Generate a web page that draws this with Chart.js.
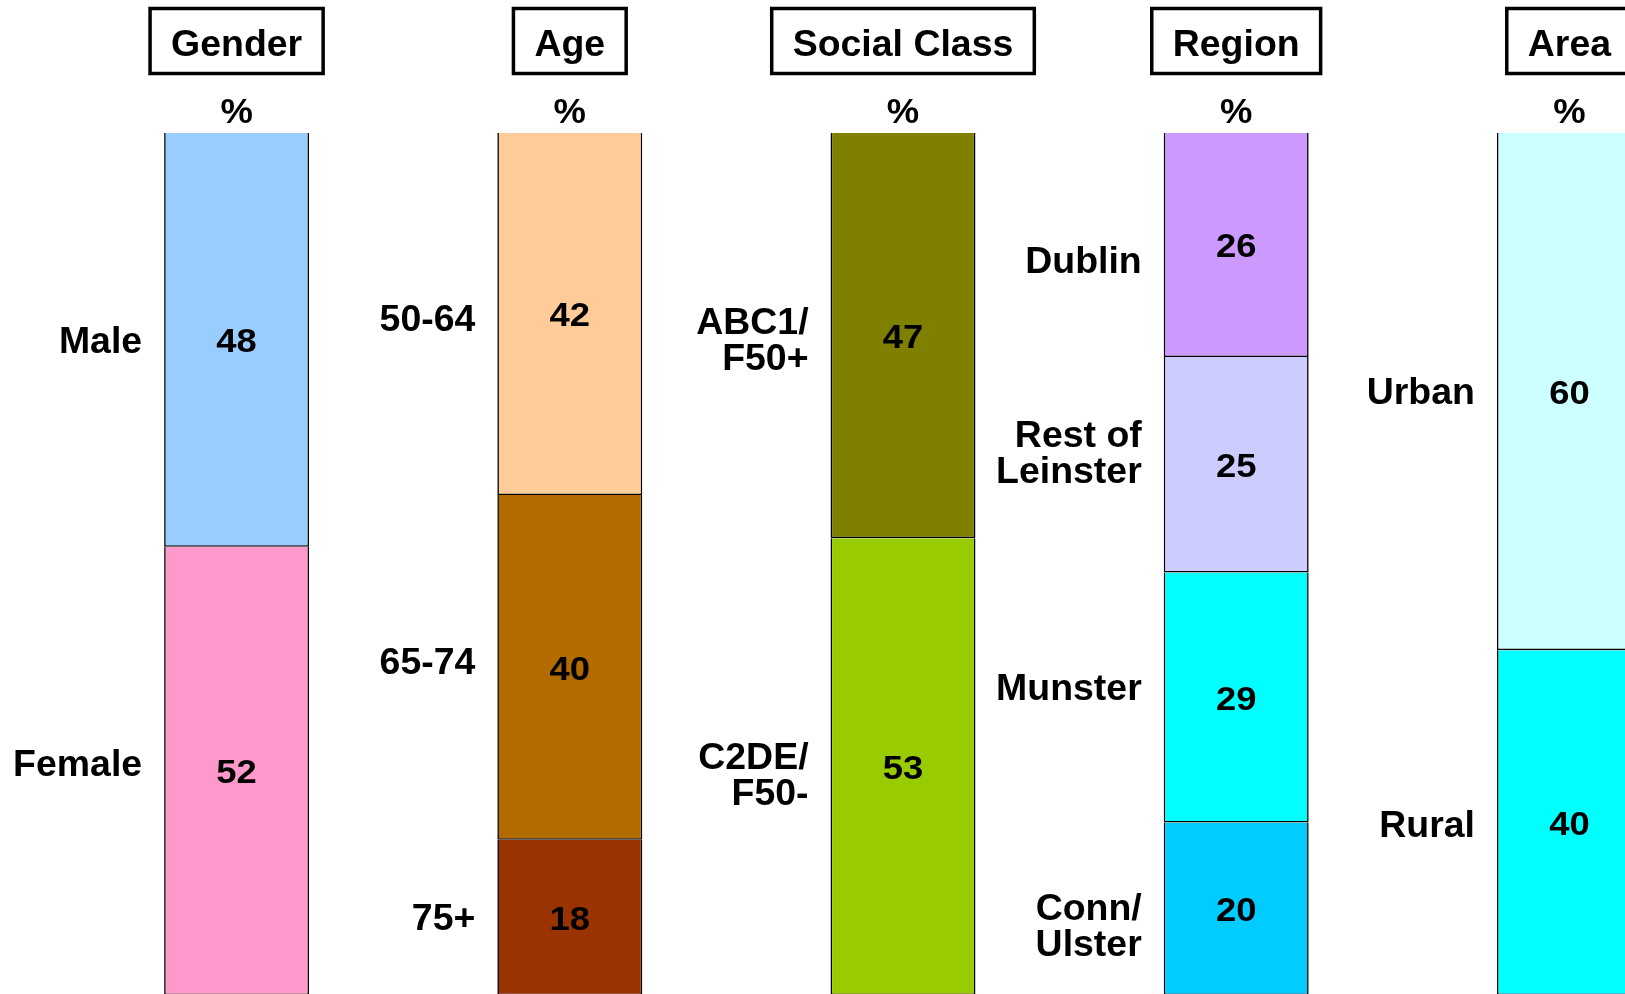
<!DOCTYPE html>
<html>
<head>
<meta charset="utf-8">
<script src="https://cdn.jsdelivr.net/npm/chart.js@4.4.0/dist/chart.umd.min.js"></script>
<style>
  html, body { margin: 0; padding: 0; background: #fff; overflow: hidden; }
  #wrap { width: 1800px; height: 1010px; }
</style>
</head>
<body>
<div id="wrap"><canvas id="myChart" width="1800" height="1010"></canvas></div>
<script>
// Datos de la grafica

const groups = ['Gender', 'Age', 'Social Class', 'Region', 'Area'];

const genderLabels = ['Male', 'Female'];
const genderValues = [48, 52];

const ageLabels = ['50-64', '65-74', '75+'];
const ageValues = [42, 40, 18];

const classLabels = [['ABC1/', 'F50+'], ['C2DE/', 'F50-']];
const classValues = [47, 53];

const regionLabels = ['Dublin', ['Rest of', 'Leinster'], 'Munster', ['Conn/', 'Ulster']];
const regionValues = [26, 25, 29, 20];

const areaLabels = ['Urban', 'Rural'];
const areaValues = [60, 40];

const colores = [
   ['#99CCFF', '#FF99CC'],
   ['#FFCC99', '#B36B00', '#993300'],
   ['#808000', '#99CC00'],
   ['#CC99FF', '#CCCCFF', '#00FFFF', '#00CCFF'],
   ['#CCFFFF', '#00FFFF']
];

// pequeños ajustes verticales de las etiquetas (px)
const ajusteEtiquetas = [
   [0, -8],
   [4, -6, 0],
   [4, 8],
   [15, -13, -10, 16],
   [0, 2]
];


// Armar datasets (una capa por segmento)

const valores = [genderValues, ageValues, classValues, regionValues, areaValues];
const etiquetas = [genderLabels, ageLabels, classLabels, regionLabels, areaLabels];
const capas = Math.max(...valores.map(v => v.length));

const datasets = [];
for (let k = 0; k < capas; k++) {
   datasets.push({
      label: 'capa' + k,
      data: valores.map(v => (v[k] === undefined ? null : v[k])),
      backgroundColor: colores.map(c => c[k] || 'transparent'),
      borderColor: '#000',
      borderWidth: 1.6,
      categoryPercentage: 1,
      barPercentage: 0.435
   });
}

const FONT = '"Liberation Sans", Arial, sans-serif';

// texto centrado verticalmente en cy (altura de mayusculas), con estiramiento horizontal sx
function texto(ctx, t, x, cy, size, align, sx) {
   ctx.save();
   ctx.font = 'bold ' + size + 'px ' + FONT;
   ctx.textAlign = align;
   ctx.textBaseline = 'alphabetic';
   ctx.translate(x, cy + size * 0.358);
   ctx.scale(sx, 1);
   ctx.fillText(t, 0, 0);
   ctx.restore();
}

const textos = {
   id: 'textos',
   afterDatasetsDraw(chart) {
      const ctx = chart.ctx;
      ctx.save();
      ctx.fillStyle = '#000';

      // valores y etiquetas de cada segmento
      chart.data.datasets.forEach((ds, k) => {
         const meta = chart.getDatasetMeta(k);
         meta.data.forEach((bar, j) => {
            if (ds.data[j] === null) return;
            const cy = (bar.y + bar.base) / 2;
            texto(ctx, String(ds.data[j]), bar.x, cy, 34, 'center', 1.07);

            let lab = etiquetas[j][k];
            if (!Array.isArray(lab)) lab = [lab];
            const x = bar.x - bar.width / 2 - 22;
            const y0 = cy + ajusteEtiquetas[j][k] - (lab.length - 1) * 36 / 2;
            lab.forEach((t, i) => texto(ctx, t, x, y0 + i * 36, 36, 'right', 1.04));
         });
      });

      // encabezados
      const meta0 = chart.getDatasetMeta(0);
      groups.forEach((g, j) => {
         const x = meta0.data[j].x;
         ctx.font = 'bold 36px ' + FONT;
         const w = ctx.measureText(g).width * 1.04 + 42;
         ctx.lineWidth = 3.5;
         ctx.strokeStyle = '#000';
         ctx.strokeRect(x - w / 2, 8.5, w, 65);
         texto(ctx, g, x, 43.5, 36, 'center', 1.04);
         texto(ctx, '%', x, 110, 35, 'center', 1.04);
      });
      ctx.restore();
   }
};

const config = {
   type: 'bar',
   data: { labels: groups, datasets: datasets },
   options: {
      responsive: false,
      animation: false,
      devicePixelRatio: 1,
      layout: { padding: { left: 70, right: 64, top: 133, bottom: 15 } },
      plugins: { legend: { display: false }, tooltip: { enabled: false } },
      scales: {
         x: { display: false, stacked: true },
         y: { display: false, stacked: true, min: 0, max: 100, reverse: true }
      }
   },
   plugins: [textos]
};

const myChart = new Chart(document.getElementById('myChart'), config);
</script>
</body>
</html>
